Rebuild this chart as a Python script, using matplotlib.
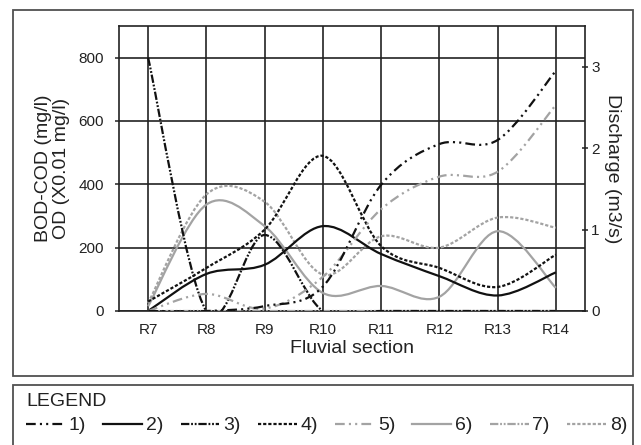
import matplotlib
matplotlib.use("Agg")
import matplotlib.pyplot as plt
from matplotlib.path import Path
from matplotlib.patches import PathPatch, Rectangle
from matplotlib.lines import Line2D

plt.rcParams['font.family'] = ['Liberation Sans', 'DejaVu Sans']
plt.rcParams['lines.scale_dashes'] = False
plt.rcParams['patch.force_edgecolor'] = True

# ---- data ----
sections = ["R7", "R8", "R9", "R10", "R11", "R12", "R13", "R14"]
s1_discharge = [0.0, 0.0, 0.06, 0.30, 1.55, 2.05, 2.10, 2.95]   # right axis
s2 = [0, 117, 146, 268, 180, 110, 49, 122]
s3 = [800, 0, 240, 0, 0, 0, 0, 0]
s4 = [30, 136, 257, 490, 205, 136, 76, 178]
s5_discharge = [0.0, 0.21, 0.03, 0.42, 1.25, 1.65, 1.71, 2.53]  # right axis
s6 = [15, 336, 268, 57, 79, 45, 252, 73]
s7 = [0, 0, 0, 0, 0, 0, 0, 0]
s8 = [25, 368, 345, 115, 236, 200, 295, 263]
legend_labels = ["1)", "2)", "3)", "4)", "5)", "6)", "7)", "8)"]

BLACK = "#111111"
GRAY = "#a3a3a3"
LW = 1.6
DASHDOTDOT_WIDE = (0, (7, 3, 1.5, 3, 1.5, 3))
DASHDOTDOT_TIGHT = (0, (6, 1.3, 1.3, 1.3, 1.3, 1.3))
SHORTDASH = (0, (2.3, 1.4))

styles = [
    dict(color=BLACK, ls=DASHDOTDOT_WIDE),
    dict(color=BLACK, ls='-'),
    dict(color=BLACK, ls=DASHDOTDOT_TIGHT),
    dict(color=BLACK, ls=SHORTDASH),
    dict(color=GRAY, ls=DASHDOTDOT_WIDE),
    dict(color=GRAY, ls='-'),
    dict(color=GRAY, ls=DASHDOTDOT_TIGHT),
    dict(color=GRAY, ls=SHORTDASH),
]


def smooth_path(xs, ys):
    """Excel-like smoothed line (Catmull-Rom as cubic Bezier)."""
    n = len(xs)
    verts = [(xs[0], ys[0])]
    codes = [Path.MOVETO]
    for i in range(n - 1):
        i0 = i - 1 if i > 0 else i
        i3 = i + 2 if i + 2 < n else i + 1
        c1 = (xs[i] + (xs[i + 1] - xs[i0]) / 6.0, ys[i] + (ys[i + 1] - ys[i0]) / 6.0)
        c2 = (xs[i + 1] - (xs[i3] - xs[i]) / 6.0, ys[i + 1] - (ys[i3] - ys[i]) / 6.0)
        verts += [c1, c2, (xs[i + 1], ys[i + 1])]
        codes += [Path.CURVE4] * 3
    return Path(verts, codes)


fig = plt.figure(figsize=(6.41, 4.45), dpi=100)
fig.patch.set_facecolor("white")

# outer boxes
fig.patches.append(Rectangle((13 / 641, 1 - 376 / 445), 620 / 641, 366 / 445,
                             transform=fig.transFigure, fill=False,
                             ec="#505050", lw=1.3))
fig.patches.append(Rectangle((13 / 641, -0.05), 620 / 641, 0.05 + 60 / 445,
                             transform=fig.transFigure, fill=False,
                             ec="#505050", lw=1.3))

ax = fig.add_axes([119 / 641, 1 - 311 / 445, 466 / 641, 285 / 445])
xs = list(range(len(sections)))
ax.set_xlim(-0.5, len(sections) - 0.5)
ax.set_ylim(0, 900)
ax.set_xticks(xs)
ax.set_xticklabels(sections)
ax.set_yticks([0, 200, 400, 600, 800])
ax.grid(True, color="#222222", lw=1.2)
ax.set_axisbelow(True)
for sp in ax.spines.values():
    sp.set_color("#222222")
    sp.set_linewidth(1.2)
ax.tick_params(axis='x', length=0, pad=9, labelsize=11, colors="#222222")
ax.tick_params(axis='y', length=3, width=1.1, pad=8, labelsize=11, colors="#222222")
ax.set_xlabel("Fluvial section", fontsize=14, labelpad=2, color="#222222")
ax.set_ylabel("BOD-COD (mg/l)\nOD (X0.01 mg/l)", fontsize=14, labelpad=6,
              color="#222222", linespacing=1.1)

ax2 = ax.twinx()
ax2.set_ylim(0, 3.5)
ax2.set_yticks([0, 1, 2, 3])
ax2.tick_params(axis='y', direction='inout', length=5, width=1.1, pad=2,
                labelsize=11, colors="#222222")
ax2.set_ylabel("Discharge (m3/s)", fontsize=14, rotation=270, labelpad=15,
               color="#222222")
for sp in ax2.spines.values():
    sp.set_visible(False)

left_series = {1: s2, 2: s3, 3: s4, 5: s6, 6: s7, 7: s8}
right_series = {0: s1_discharge, 4: s5_discharge}
draw_order = [6, 5, 7, 4, 3, 1, 2, 0]
for k in draw_order:
    st = styles[k]
    if k in left_series:
        target, vals = ax, left_series[k]
    else:
        target, vals = ax2, right_series[k]
    patch = PathPatch(smooth_path(xs, vals), fill=False, ec=st['color'],
                      ls=st['ls'], lw=LW, capstyle='butt', joinstyle='round',
                      zorder=3 + draw_order.index(k) * 0.01)
    target.add_patch(patch)

handles = [Line2D([], [], color=st['color'], ls=st['ls'], lw=LW) for st in styles]
leg = fig.legend(handles, legend_labels, loc='upper left',
                 bbox_to_anchor=(26 / 641, 1 - 393 / 445), ncol=8,
                 title="LEGEND", alignment='left', frameon=False,
                 fontsize=14, title_fontsize=14, handlelength=2.0,
                 handletextpad=0.2, columnspacing=0.88, borderpad=0,
                 borderaxespad=0, labelspacing=0.35)
for t in leg.get_texts():
    t.set_color("#222222")
leg.get_title().set_color("#222222")

fig.savefig("out.png", dpi=100, facecolor="white")
